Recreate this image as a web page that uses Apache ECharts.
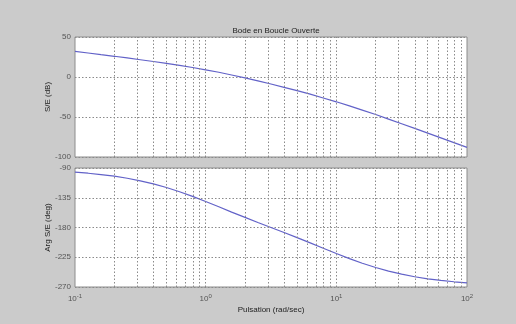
<!DOCTYPE html>
<html>
<head>
<meta charset="utf-8">
<script src="https://cdn.jsdelivr.net/npm/echarts@6/dist/echarts.min.js"></script>
<style>
  html, body { margin: 0; padding: 0; background: #cbcbcb; }
  #chart { width: 516px; height: 324px; }
</style>
</head>
<body>
<div id="chart"></div>
<script>
// Open-loop Bode plot: gain and phase versus pulsation (rad/sec)
const pulsation = [0.1, 0.126, 0.158, 0.2, 0.251, 0.316, 0.398, 0.501, 0.631, 0.794,
  1, 1.26, 1.58, 2, 2.51, 3.16, 3.98, 5.01, 6.31, 7.94,
  10, 12.6, 15.8, 20, 25.1, 31.6, 39.8, 50.1, 63.1, 79.4, 100];
const gainDb = [32.0, 30.0, 27.9, 25.9, 23.8, 21.6, 19.4, 17.1, 14.6, 11.9,
  9.0, 5.9, 2.5, -1.1, -4.9, -8.8, -12.9, -17.1, -21.5, -26.2,
  -31.0, -36.1, -41.4, -46.9, -52.6, -58.4, -64.2, -70.1, -76.1, -82.0, -88.0];
const phaseDeg = [-96.3, -97.9, -99.9, -102.4, -105.5, -109.4, -114.0, -119.5, -125.9, -133.0,
  -140.7, -148.7, -156.8, -164.7, -172.4, -180.0, -187.6, -195.3, -203.3, -211.3,
  -219.3, -227.0, -234.1, -240.5, -246.0, -250.6, -254.5, -257.6, -260.1, -262.1, -263.7];

// Vertical grid positions inside each decade (log axis)
const decadeStarts = [0.1, 1, 10];
const decadeSteps = [2, 3, 4, 5, 6, 7, 8, 9];
const xGridValues = [];
decadeStarts.forEach(d => decadeSteps.forEach(m => xGridValues.push(+(d * m).toPrecision(3))));
xGridValues.push(1, 10);

const gainTicks = { min: -100, max: 50, interval: 50 };
const phaseTicks = { min: -270, max: -90, interval: 45 };

const FONT = 'Liberation Sans';
const FRAME = '#8c8c8c';
const GRID = '#8a8a8a';
const CURVE = '#6262c8';

const gainData = pulsation.map((w, i) => [w, gainDb[i]]);
const phaseData = pulsation.map((w, i) => [w, phaseDeg[i]]);

function gridMarks() {
  return {
    silent: true,
    symbol: 'none',
    label: { show: false },
    lineStyle: { color: GRID, type: [1.5, 2], width: 1 },
    data: xGridValues.map(v => ({ xAxis: v }))
  };
}

function xAxisDef(gridIndex, showLabels) {
  return {
    type: 'log', logBase: 10, min: 0.1, max: 100, gridIndex,
    axisLine: { show: false },
    axisTick: { show: false },
    splitLine: { show: false },
    axisLabel: showLabels ? {
      margin: 6,
      formatter: v => '{b|10}{s|' + Math.round(Math.log10(v)) + '}',
      rich: {
        b: { fontFamily: FONT, fontSize: 8, color: '#555', verticalAlign: 'bottom', lineHeight: 10 },
        s: { fontFamily: FONT, fontSize: 6, color: '#555', verticalAlign: 'top', padding: [0, 0, 6, 0], lineHeight: 8 }
      }
    } : { show: false },
    name: showLabels ? 'Pulsation (rad/sec)' : '',
    nameLocation: 'middle',
    nameGap: 19,
    nameMoveOverlap: false,
    nameTextStyle: { fontFamily: FONT, fontSize: 8, color: '#222' }
  };
}

function yAxisDef(gridIndex, t, name) {
  return {
    type: 'value', gridIndex, min: t.min, max: t.max, interval: t.interval,
    axisLine: { show: false },
    axisTick: { show: false },
    axisLabel: { fontFamily: FONT, fontSize: 8, color: '#555', margin: 4 },
    splitLine: { show: true, lineStyle: { color: GRID, type: [1.5, 2], width: 1 } },
    name, nameLocation: 'middle', nameGap: 23, nameRotate: 90,
    nameMoveOverlap: false,
    nameTextStyle: { fontFamily: FONT, fontSize: 8, color: '#222' }
  };
}

const chart = echarts.init(document.getElementById('chart'), null, { renderer: 'canvas' });
chart.setOption({
  animation: false,
  backgroundColor: '#cbcbcb',
  title: {
    text: 'Bode en Boucle Ouverte',
    left: 271, top: 22, textAlign: 'center',
    textStyle: { fontFamily: FONT, fontSize: 8, fontWeight: 'normal', color: '#222' }
  },
  grid: [
    { left: 75, top: 37, width: 392, height: 120, show: true, backgroundColor: '#ffffff', borderColor: FRAME, borderWidth: 1 },
    { left: 75, top: 168, width: 392, height: 119, show: true, backgroundColor: '#ffffff', borderColor: FRAME, borderWidth: 1 }
  ],
  xAxis: [xAxisDef(0, false), xAxisDef(1, true)],
  yAxis: [yAxisDef(0, gainTicks, 'S/E (dB)'), yAxisDef(1, phaseTicks, 'Arg S/E (deg)')],
  series: [
    {
      type: 'line', xAxisIndex: 0, yAxisIndex: 0, data: gainData,
      showSymbol: false, smooth: false,
      lineStyle: { color: CURVE, width: 1.2 },
      markLine: gridMarks(), z: 3
    },
    {
      type: 'line', xAxisIndex: 1, yAxisIndex: 1, data: phaseData,
      showSymbol: false, smooth: false,
      lineStyle: { color: CURVE, width: 1.2 },
      markLine: gridMarks(), z: 3
    }
  ]
});
</script>
</body>
</html>
